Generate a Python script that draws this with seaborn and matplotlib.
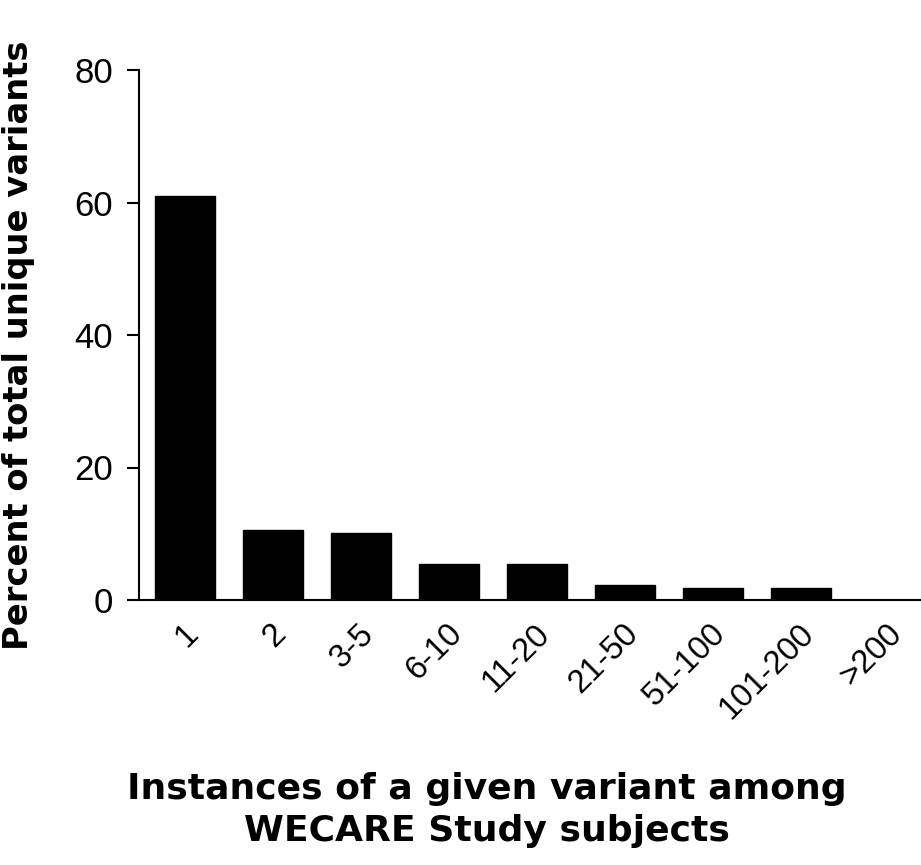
import matplotlib
matplotlib.use("Agg")
import matplotlib.pyplot as plt
import matplotlib.transforms as mtransforms
import seaborn as sns
import pandas as pd

categories = ["1", "2", "3-5", "6-10", "11-20", "21-50", "51-100", "101-200", ">200"]
percent = [61.0, 10.6, 10.1, 5.5, 5.5, 2.3, 1.8, 1.8, 0.0]
yticks = [0, 20, 40, 60, 80]

sns.set_theme(style="white")
plt.rcParams["font.family"] = ["Liberation Sans", "DejaVu Sans"]
plt.rcParams["text.color"] = "black"
plt.rcParams["axes.labelcolor"] = "black"
plt.rcParams["xtick.color"] = "black"
plt.rcParams["ytick.color"] = "black"

df = pd.DataFrame({"cat": categories, "pct": percent})

fig = plt.figure(figsize=(9.21, 8.65), dpi=100)
ax = fig.add_axes([139/921, 1 - 600/865, 1 - 139/921, (600 - 70)/865])

sns.barplot(data=df, x="cat", y="pct", color="black", width=0.68,
            saturation=1, ax=ax, edgecolor="black")

ax.set_xlim(-0.523, 8.36)
ax.set_ylim(0, 80)
ax.set_yticks(yticks)
ax.set_yticklabels([str(t) for t in yticks], fontsize=25)

ax.set_xticks(range(len(categories)))
ax.set_xticklabels(categories, rotation=45, ha="right", rotation_mode="anchor",
                   fontsize=23.5)
ax.tick_params(axis="x", length=0, pad=13)
offset = mtransforms.ScaledTranslation(-3/100, 0, fig.dpi_scale_trans)
for lbl in ax.get_xticklabels():
    lbl.set_transform(lbl.get_transform() + offset)
ax.tick_params(axis="y", direction="out", length=8.6, width=1.5, color="black",
               pad=10, left=True)

for s in ["top", "right"]:
    ax.spines[s].set_visible(False)
for s in ["left", "bottom"]:
    ax.spines[s].set_color("black")
    ax.spines[s].set_linewidth(1.5)

ax.set_ylabel("Percent of total unique variants", fontsize=24.3, fontweight="bold",
              family=["DejaVu Sans"])
ax.yaxis.set_label_coords(-(139 - 35)/782, (600 - 345)/530)
ax.set_xlabel("Instances of a given variant among\nWECARE Study subjects",
              fontsize=26, fontweight="bold", linespacing=1.3,
              family=["DejaVu Sans"])
ax.xaxis.set_label_coords((487 - 139)/782, -(810 - 600)/530)
ax.xaxis.label.set_va("center")

fig.savefig("out.png", dpi=100, facecolor="white")
